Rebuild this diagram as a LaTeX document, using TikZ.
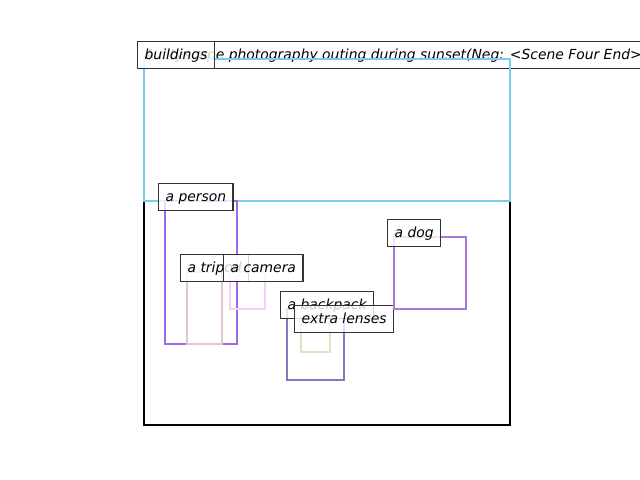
\documentclass[tikz,border=0pt]{standalone}
\usepackage{fontspec}
\setmainfont{DejaVu Sans}
\definecolor{cbld}{RGB}{120,205,238}
\definecolor{cper}{RGB}{155,105,240}
\definecolor{ctri}{RGB}{228,200,195}
\definecolor{ccam}{RGB}{245,205,245}
\definecolor{cbag}{RGB}{140,115,190}
\definecolor{clen}{RGB}{226,226,192}
\definecolor{cdog}{RGB}{170,120,220}
\begin{document}
\begin{tikzpicture}[x=0.72pt,y=-0.72pt,
  lbl/.style={draw=black!80, fill=white, fill opacity=0.8, text opacity=1,
    line width=0.9pt, font=\itshape, inner xsep=5pt, inner ysep=4.3pt,
    text height=8.5pt, text depth=2.5pt, anchor=base west, xshift=-5pt},
  bx/.style={line width=2.15pt}]
\useasboundingbox (0,0) rectangle (640,480);
\clip (0,0) rectangle (640,480);
\draw[bx,black] (144,59) rectangle (510,425);
\node[lbl] (cap) at (144,59) {A cityscape photography outing during sunset(Neg: <Scene Four End>)};
\draw[bx,cbld] (144,59) rectangle (510,201);
\node[lbl] (lbld) at (144,59) {buildings};
\draw[bx,cper] (165,201) rectangle (237,344);
\node[lbl] (lper) at (165,201) {a person};
\draw[bx,ctri] (187,272) rectangle (222,344);
\node[lbl] (ltri) at (187,272) {a tripod};
\draw[bx,ccam] (230,272) rectangle (265,309);
\node[lbl] (lcam) at (230,272) {a camera};
\draw[bx,cbag] (287,309) rectangle (344,380);
\node[lbl] (lbag) at (287,309) {a backpack};
\draw[bx,clen] (301,323) rectangle (330,352);
\node[lbl] (llen) at (301,323) {extra lenses};
\draw[bx,cdog] (394,237) rectangle (466,309);
\node[lbl] (ldog) at (394,237) {a dog};
\end{tikzpicture}
\end{document}
